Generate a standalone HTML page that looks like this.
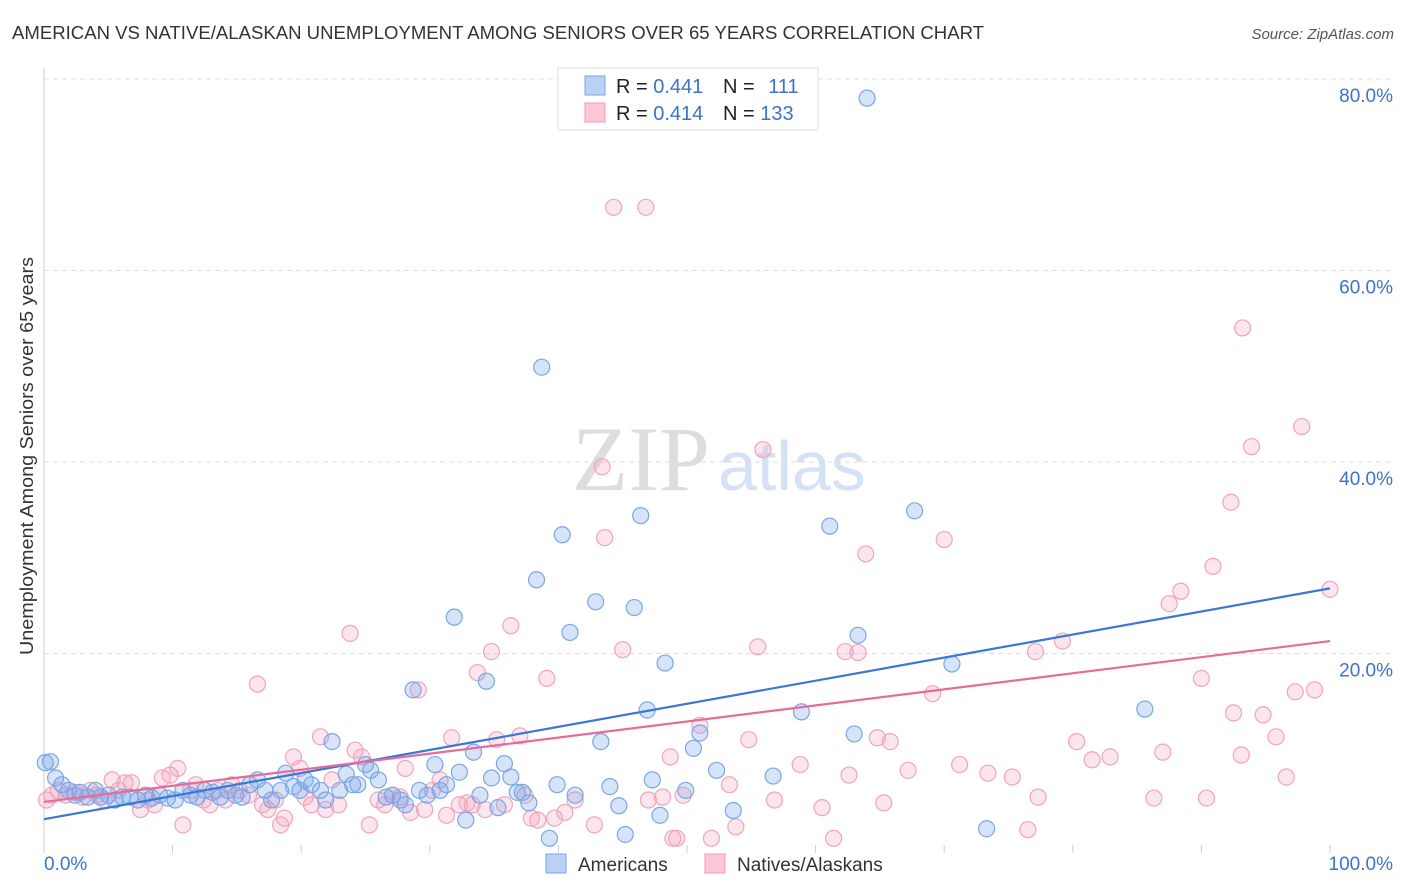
<!DOCTYPE html>
<html><head><meta charset="utf-8"><style>
body{margin:0;background:#fff;font-family:"Liberation Sans",sans-serif}
svg{display:block}
</style></head><body>
<svg id="chart" width="1406" height="892" xmlns="http://www.w3.org/2000/svg">
<text x="12" y="39" font-size="18" fill="#333" textLength="972" lengthAdjust="spacingAndGlyphs">AMERICAN VS NATIVE/ALASKAN UNEMPLOYMENT AMONG SENIORS OVER 65 YEARS CORRELATION CHART</text>
<text x="1394" y="39" font-size="15" fill="#555" font-style="italic" text-anchor="end">Source: ZipAtlas.com</text>
<text x="710" y="490" font-size="92" fill="#ddd" font-family="Liberation Serif,serif" text-anchor="end">ZIP</text>
<text x="718" y="490" font-size="70" fill="#d4e2f6" text-anchor="start">atlas</text>
<g id="grid"></g>
<g id="axes"></g>
<g id="pts"></g>
<g id="trend"></g>
<text transform="translate(33,456) rotate(-90)" font-size="18" fill="#333" text-anchor="middle" textLength="398" lengthAdjust="spacingAndGlyphs">Unemployment Among Seniors over 65 years</text>
<g>
<rect x="558" y="68" width="260" height="62" fill="#fff" stroke="#ddd"/>
<rect x="585" y="76" width="20" height="19" fill="#b8d1f4" stroke="#7aa6e6"/>
<rect x="585" y="103" width="20" height="19" fill="#fcc8d6" stroke="#f09ab4"/>
<text x="616" y="93" font-size="20" fill="#222">R = <tspan fill="#3b73c9">0.441</tspan></text>
<text x="723" y="93" font-size="20" fill="#222">N = <tspan fill="#3b73c9" dx="8">111</tspan></text>
<text x="616" y="120" font-size="20" fill="#222">R = <tspan fill="#3b73c9">0.414</tspan></text>
<text x="723" y="120" font-size="20" fill="#222">N = <tspan fill="#3b73c9">133</tspan></text>
</g>
<g>
<rect x="546" y="854" width="20" height="19" fill="#b8d1f4" stroke="#7aa6e6"/>
<text x="578" y="871" font-size="19" fill="#333">Americans</text>
<rect x="705" y="854" width="20" height="19" fill="#fcc8d6" stroke="#f09ab4"/>
<text x="737" y="871" font-size="19" fill="#333">Natives/Alaskans</text>
</g>
</svg>
<script>
const blueX=[0.5,0.9,1.4,1.9,2.4,2.8,3.4,4.0,4.4,5.0,5.5,6.1,6.7,7.3,7.9,8.4,9.0,9.6,10.2,10.8,11.4,11.9,12.5,13.1,13.7,14.3,14.9,15.4,16.0,16.6,17.2,17.7,18.4,18.8,19.4,19.9,20.3,20.8,21.5,21.9,22.4,23.0,23.5,24.0,24.4,25.0,25.4,26.0,26.6,27.1,27.7,28.1,28.7,29.2,29.8,30.4,30.8,31.3,31.9,32.3,32.8,33.4,33.9,34.4,34.8,35.3,35.8,36.3,36.8,37.2,37.7,38.3,38.7,39.3,39.9,40.3,40.9,41.3,42.9,43.3,44.0,44.7,45.2,45.9,46.4,46.9,47.3,47.9,48.3,49.9,50.5,51.0,52.3,53.6,56.7,58.9,61.1,63.0,63.3,64.0,67.7,70.6,73.3,85.6,0.1];
const blueY=[8.7,7.0,6.3,5.7,5.2,5.5,5.0,5.7,5.0,5.2,4.7,5.0,5.0,4.7,5.2,4.9,5.2,4.9,4.7,5.7,5.2,5.0,5.7,5.5,5.0,5.7,5.2,5.0,6.3,6.8,5.7,4.7,5.7,7.5,6.1,5.7,6.8,6.3,5.7,4.7,10.8,5.7,7.4,6.3,6.3,8.4,7.8,6.8,5.0,5.2,4.7,4.2,16.2,5.7,5.2,8.4,5.7,6.3,23.8,7.6,2.6,9.7,5.2,17.1,7.0,3.9,8.5,7.1,5.5,5.5,4.4,27.7,49.9,0.7,6.3,32.4,22.2,5.2,25.4,10.8,6.1,4.1,1.1,24.8,34.4,14.1,6.8,3.1,19.0,5.7,10.1,11.7,7.8,3.6,7.2,13.9,33.3,11.6,21.9,78.0,34.9,18.9,1.7,14.2,8.6];
const pinkX=[0.2,0.6,1.1,1.7,2.4,3.0,3.6,4.1,4.7,5.3,5.8,6.3,6.8,7.5,8.1,8.6,9.2,9.8,10.4,10.8,11.4,11.8,12.4,12.9,13.5,14.1,14.6,15.2,15.9,16.6,17.0,17.4,18.0,18.4,18.7,19.4,19.9,20.3,20.8,21.5,21.9,22.4,22.9,23.8,24.2,24.7,25.3,26.0,26.5,27.1,27.7,28.1,28.5,29.1,29.6,30.2,30.8,31.3,31.7,32.3,32.9,33.3,33.7,34.3,34.8,35.2,35.8,36.3,37.0,37.4,37.9,38.4,39.1,39.7,40.5,41.3,42.8,43.4,43.6,44.3,45.0,46.8,47.0,48.1,48.7,48.9,49.2,49.7,51.0,51.9,53.3,53.8,54.8,55.5,55.9,56.8,58.8,60.5,61.4,62.6,62.3,63.3,63.9,64.8,65.3,65.8,67.2,69.1,70.0,71.2,73.4,75.3,76.5,77.3,77.1,79.2,80.3,81.5,82.9,86.3,87.0,87.5,88.4,90.0,90.4,90.9,92.3,92.5,93.1,93.2,93.9,94.8,95.8,96.6,97.3,97.8,98.8,100];
const pinkY=[4.7,5.2,5.7,5.2,5.5,5.0,5.7,5.2,4.7,6.8,5.7,6.5,6.5,3.7,4.7,4.2,7.0,7.3,8.0,2.1,5.7,6.3,4.7,4.2,5.7,4.7,6.3,5.7,5.2,16.8,4.2,3.7,4.7,2.1,2.8,9.2,8.0,5.0,4.2,11.3,3.7,6.8,4.2,22.1,9.9,9.2,2.1,4.7,4.2,5.2,5.0,8.0,3.4,16.2,3.7,5.7,6.8,3.1,11.2,4.2,4.4,4.2,18.0,3.7,20.2,11.0,4.2,22.9,11.4,5.2,2.8,2.6,17.4,2.8,3.4,4.7,2.1,39.5,32.1,66.6,20.4,66.6,4.7,5.0,9.2,0.7,0.7,5.2,12.5,0.7,6.3,1.9,11.0,20.7,41.3,4.7,8.4,3.9,0.7,7.3,20.2,20.1,30.4,11.2,4.4,10.8,7.8,15.8,31.9,8.4,7.5,7.1,1.6,5.0,20.2,21.3,10.8,8.9,9.2,4.9,9.7,25.2,26.5,17.4,4.9,29.1,35.8,13.8,9.4,54.0,41.6,13.6,11.3,7.1,16.0,43.7,16.2,26.7];
const trendIntercepts=[2.7,4.5];
const trendEnds=[26.8,21.3];
const yTicks=[20,40,60,80];
const yTickLabels=["20.0%","40.0%","60.0%","80.0%"];
const xTickVals=[0,10,20,30,40,50,60,70,80,90,100];

const X=v=>44+v*12.86;
const Y=v=>845-v*9.575;
const NS="http://www.w3.org/2000/svg";
function mk(tag,attrs,parent){const e=document.createElementNS(NS,tag);for(const k in attrs)e.setAttribute(k,attrs[k]);parent.appendChild(e);return e;}
const grid=document.getElementById('grid'),axes=document.getElementById('axes'),pts=document.getElementById('pts'),trend=document.getElementById('trend');
yTicks.forEach((t,i)=>{
  const l=mk('line',{x1:44,x2:1393,y1:Y(t),y2:Y(t),stroke:'#ddd','stroke-dasharray':'5,4'},grid);
  
  
  const tx=mk('text',{x:1393,y:Y(t)+23,'font-size':19,fill:'#3b73c9','text-anchor':'end'},grid);
  tx.textContent=yTickLabels[i];
  
  
});
const ax=mk('line',{x1:44,x2:44,y1:68,y2:845,stroke:'#ccc'},axes);


xTickVals.forEach(v=>{
  const t=mk('line',{x1:X(v),x2:X(v),y1:845,y2:853,stroke:'#ccc'},axes);
  
  
});
const x0=mk('text',{x:44,y:870,'font-size':19,fill:'#3b73c9'},axes);x0.textContent='0.0%';


const x1=mk('text',{x:1393,y:870,'font-size':19,fill:'#3b73c9','text-anchor':'end'},axes);x1.textContent='100.0%';


function dots(xs,ys,fill,stroke,name){
  xs.forEach((v,i)=>{
    const c=mk('circle',{cx:X(v),cy:Y(ys[i]),r:8,fill:fill,stroke:stroke,'stroke-width':1.2},pts);
    
    
  });
}
dots(pinkX,pinkY,'rgba(246,160,188,0.28)','#f0a4bc','native-point');
dots(blueX,blueY,'rgba(120,165,235,0.3)','#7ba6e4','american-point');
const cols=['#3a78d6','#e86a98'];
const names=['american-trendline','native-trendline'];
trendIntercepts.forEach((b,i)=>{
  const l=mk('line',{x1:X(0),y1:Y(b),x2:X(100),y2:Y(trendEnds[i]),stroke:cols[i],'stroke-width':2.2},trend);
  
  
});
</script>
</body></html>
